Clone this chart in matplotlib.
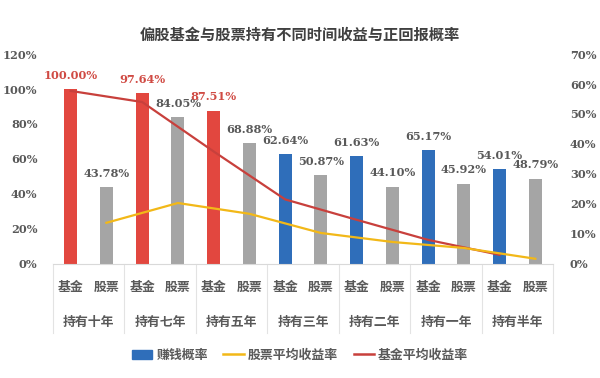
import numpy as np
import matplotlib
matplotlib.use("Agg")
import matplotlib.pyplot as plt
from matplotlib.patches import Patch
from matplotlib.lines import Line2D
from matplotlib.ticker import FuncFormatter
from matplotlib.transforms import blended_transform_factory

plt.rcParams['font.family'] = ['Noto Sans CJK SC', 'DejaVu Sans']

# --- data ---
groups = ['持有十年', '持有七年', '持有五年', '持有三年', '持有二年', '持有一年', '持有半年']
sub_labels = ['基金', '股票']
fund_win = [100.00, 97.64, 87.51, 62.64, 61.63, 65.17, 54.01]
stock_win = [43.78, 84.05, 68.88, 50.87, 44.10, 45.92, 48.79]
fund_avg_ret = [57.7, 54.0, 37.5, 21.5, 14.7, 8.0, 3.0]
stock_avg_ret = [13.7, 20.3, 16.7, 10.3, 7.3, 5.3, 1.7]
n_highlight = 3   # first groups drawn in red

RED = '#E2473F'
BLUE = '#2F6EBA'
GRAY = '#A5A5A5'
RED_LINE = '#C8403C'
YELLOW = '#F2B818'
TXT = '#595959'
NUM_FONT = ['DejaVu Serif', 'Noto Sans CJK SC']

fig = plt.figure(figsize=(6, 3.78), dpi=100)
ax = fig.add_axes([0.088, 0.302, 0.834, 0.555])
ax2 = ax.twinx()

n = len(groups)
x_fund = np.arange(n) * 2
x_stock = x_fund + 1
w = 0.36

fund_colors = [RED if i < n_highlight else BLUE for i in range(n)]
ax.bar(x_fund, np.array(fund_win) / 100, width=w, color=fund_colors, zorder=2)
ax.bar(x_stock, np.array(stock_win) / 100, width=w, color=GRAY, zorder=2)

# value labels
for i in range(n):
    c = '#D04A43' if i < n_highlight else TXT
    ax.annotate(f'{fund_win[i]:.2f}%', (x_fund[i], fund_win[i] / 100), xytext=(0, 10),
                textcoords='offset points', ha='center', va='center', fontsize=8.2,
                fontweight='bold', color=c, family=NUM_FONT, zorder=5)
    ax.annotate(f'{stock_win[i]:.2f}%', (x_stock[i], stock_win[i] / 100), xytext=(0, 10),
                textcoords='offset points', ha='center', va='center', fontsize=8.2,
                fontweight='bold', color=TXT, family=NUM_FONT, zorder=5)

# return lines on right axis
ax2.plot(x_fund, np.array(fund_avg_ret) / 100, color=RED_LINE, lw=1.6, zorder=3)
ax2.plot(x_stock, np.array(stock_avg_ret) / 100, color=YELLOW, lw=1.6, zorder=3)

ax.set_xlim(-0.5, 2 * n - 0.5)
ax.set_ylim(0, 1.2)
ax2.set_ylim(0, 0.7)
ax.set_yticks(np.arange(0, 1.21, 0.2))
ax2.set_yticks(np.arange(0, 0.71, 0.1))
pct = FuncFormatter(lambda v, p: f'{v * 100:.0f}%')
ax.yaxis.set_major_formatter(pct)
ax2.yaxis.set_major_formatter(pct)
for a in (ax, ax2):
    a.tick_params(axis='y', length=0, labelsize=8.2, labelcolor=TXT)
    for lab in a.get_yticklabels():
        lab.set_family(NUM_FONT)
        lab.set_fontweight('bold')
    for s in a.spines.values():
        s.set_visible(False)
ax.tick_params(axis='y', pad=11)
ax2.tick_params(axis='y', pad=12)
ax.spines['bottom'].set_visible(True)
ax.spines['bottom'].set_color('#D9D9D9')
ax.set_xticks([])

# two-level category axis
trans = blended_transform_factory(ax.transData, ax.transAxes)
for i in range(n):
    for k, lab in enumerate(sub_labels):
        ax.text(x_fund[i] + k, -0.11, lab, transform=trans, ha='center', va='center',
                fontsize=9.3, fontweight='bold', color=TXT)
    ax.text(x_fund[i] + 0.5, -0.275, groups[i], transform=trans, ha='center', va='center',
            fontsize=9.3, fontweight='bold', color=TXT)
for b in np.arange(n + 1) * 2 - 0.5:
    ax.plot([b, b], [0, -0.33], transform=trans, color='#E3E3E3', lw=0.8, clip_on=False)

fig.text(0.5, 0.907, '偏股基金与股票持有不同时间收益与正回报概率', ha='center', va='center',
         fontsize=11, fontweight='bold', color='#404040')

handles = [Patch(color=BLUE), Line2D([], [], color=YELLOW, lw=1.8), Line2D([], [], color=RED_LINE, lw=1.8)]
labels = ['赚钱概率', '股票平均收益率', '基金平均收益率']
fig.legend(handles, labels, loc='center', bbox_to_anchor=(0.5, 0.061), ncol=3, frameon=False,
           prop={'size': 9.3, 'weight': 'bold'}, labelcolor=TXT, handlelength=1.6,
           handleheight=0.7, handletextpad=0.3, columnspacing=1.2)

fig.savefig('out.png', dpi=100)
